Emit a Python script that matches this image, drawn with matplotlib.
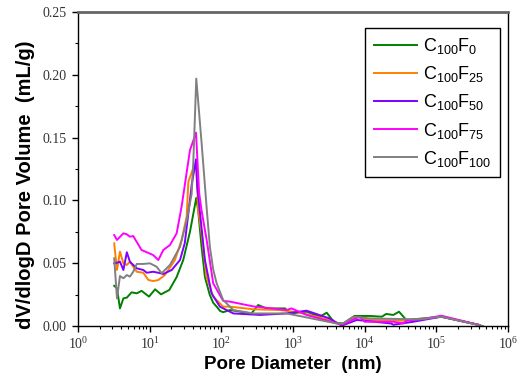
import math
import matplotlib
matplotlib.use("Agg")
import matplotlib.pyplot as plt
from matplotlib.ticker import FuncFormatter, FormatStrFormatter, FixedLocator, LogLocator, MultipleLocator

# ---------------- data ----------------
labels = [r"C$\mathregular{_{100}}$F$\mathregular{_{0}}$",
          r"C$\mathregular{_{100}}$F$\mathregular{_{25}}$",
          r"C$\mathregular{_{100}}$F$\mathregular{_{50}}$",
          r"C$\mathregular{_{100}}$F$\mathregular{_{75}}$",
          r"C$\mathregular{_{100}}$F$\mathregular{_{100}}$"]
colors = ["#008000", "#FF8000", "#8000FF", "#FF00FF", "#808080"]

x_f0 = [3.2, 3.5, 3.85, 4.3, 4.8, 5.6, 6.6, 7.7, 9.8, 11.9, 14.4, 18.8, 23.8, 29.4, 36.5, 44.7,
        47.5, 53, 59, 69, 77, 86, 96, 106, 132, 263, 327, 427, 776, 912, 1549, 2371, 2951,
        3802, 5012, 7244, 11749, 17378, 19953, 25119, 30200, 38019, 117490, 398107]
y_f0 = [0.032, 0.030, 0.014, 0.022, 0.0226, 0.0268, 0.026, 0.028, 0.0234, 0.0292, 0.0252, 0.0287,
        0.039, 0.0525, 0.075, 0.102, 0.092, 0.063, 0.039, 0.0247, 0.0185, 0.0154, 0.012, 0.011,
        0.0127, 0.010, 0.0167, 0.014, 0.014, 0.010, 0.0114, 0.0074, 0.0106, 0.0026, 0.002, 0.008,
        0.008, 0.0074, 0.0096, 0.0088, 0.0114, 0.0048, 0.0074, 0.0008]

x_f25 = [3.2, 3.5, 3.85, 4.3, 4.8, 5.3, 5.9, 6.6, 8.15, 9.6, 11.2, 13.2, 16.3, 22.5, 27.9, 32.8,
         34.7, 40.6, 44.7, 47.5, 53, 62, 77, 106, 132, 279, 660, 1259, 3236, 4786, 7762, 10715,
         38019, 117490, 398107]
y_f25 = [0.0658, 0.0446, 0.0592, 0.0499, 0.0486, 0.0512, 0.0472, 0.0432, 0.0424, 0.0366, 0.0358,
         0.0366, 0.0406, 0.0525, 0.0685, 0.087, 0.115, 0.1256, 0.127, 0.092, 0.074, 0.0393, 0.0234,
         0.0154, 0.0154, 0.0133, 0.0127, 0.0106, 0.0048, 0.001, 0.0074, 0.0048, 0.0042, 0.0074,
         0.0008]

x_f50 = [3.2, 3.5, 3.85, 4.3, 4.8, 5.3, 6.6, 8.15, 9.1, 11.2, 13.2, 15.5, 20.3, 26.5, 30.9, 34.7,
         38.5, 44.3, 46.1, 50, 59, 73, 95.5, 147, 347, 813, 1549, 3236, 4786, 7762, 23442, 25119,
         47863, 117490, 398107]
y_f50 = [0.0499, 0.0504, 0.0512, 0.0446, 0.0587, 0.0512, 0.0459, 0.0446, 0.0424, 0.0432, 0.0424,
         0.0414, 0.0446, 0.0525, 0.066, 0.09, 0.112, 0.1327, 0.111, 0.092, 0.0525, 0.026, 0.0154,
         0.010, 0.0088, 0.010, 0.0122, 0.006, 0.0003, 0.0048, 0.002, 0.001, 0.0034, 0.0074, 0.0008]

x_f75 = [3.2, 3.5, 4.3, 4.8, 5.3, 5.9, 7.7, 11.2, 13.2, 15.5, 19.2, 23.8, 27.9, 36.5, 42, 44.3,
         49, 53, 62.4, 77, 106, 132, 279, 813, 955, 1549, 4786, 8511, 10000, 25119, 34674, 38019,
         72444, 117490, 398107]
y_f75 = [0.0724, 0.0685, 0.0738, 0.073, 0.0711, 0.0716, 0.0605, 0.0565, 0.0525, 0.0605, 0.0645,
         0.0738, 0.095, 0.140, 0.150, 0.154, 0.106, 0.092, 0.0685, 0.034, 0.0200, 0.0194, 0.0156,
         0.0127, 0.014, 0.0088, 0.001, 0.0074, 0.0034, 0.0034, 0.002, 0.0042, 0.006, 0.0082, 0.0008]

x_f100 = [3.2, 3.5, 3.85, 4.3, 4.8, 5.3, 5.9, 6.6, 8.15, 10.1, 12.5, 14.7, 19.2, 26.5, 32.8, 38.5,
          40.6, 44.7, 53, 62.4, 69.2, 77, 86, 106, 147, 279, 813, 1380, 4074, 5012, 6918, 11749,
          58884, 117490, 446684]
y_f100 = [0.0539, 0.022, 0.0398, 0.038, 0.0406, 0.0393, 0.0432, 0.0494, 0.0494, 0.0499, 0.0472,
          0.042, 0.0486, 0.063, 0.084, 0.105, 0.13, 0.197, 0.146, 0.094, 0.063, 0.045, 0.034,
          0.0207, 0.0127, 0.010, 0.010, 0.0074, 0.002, 0.002, 0.0074, 0.006, 0.0053, 0.0074, 0.0]

series_x = [x_f0, x_f25, x_f50, x_f75, x_f100]
series_y = [y_f0, y_f25, y_f50, y_f75, y_f100]

x_major = [1, 10, 100, 1000, 10000, 100000, 1000000]

xlabel = "Pore Diameter  (nm)"
ylabel = "dV/dlogD Pore Volume  (mL/g)"

# ---------------- figure ----------------
fig = plt.figure(figsize=(5.32, 3.85), dpi=100)
ax = fig.add_axes([78 / 532, 59 / 385, 430 / 532, 314 / 385])

for xs, ys, c, lab in zip(series_x, series_y, colors, labels):
    ax.plot(xs, ys, color=c, lw=1.4, label=lab)

ax.set_xscale("log")
ax.set_xlim(1, 1e6)
ax.set_ylim(0, 0.25)

ax.xaxis.set_major_locator(FixedLocator(x_major))
ax.xaxis.set_minor_locator(LogLocator(base=10, subs=range(2, 10), numticks=100))
ax.xaxis.set_major_formatter(FuncFormatter(lambda v, p: r"$\mathregular{10^{%d}}$" % round(math.log10(v))))
ax.yaxis.set_major_locator(MultipleLocator(0.05))
ax.yaxis.set_minor_locator(MultipleLocator(0.025))
ax.yaxis.set_major_formatter(FormatStrFormatter("%.2f"))

ax.tick_params(which="both", direction="out", colors="black", labelcolor="#333333")
ax.tick_params(which="major", length=4, width=1, labelsize=10)
ax.tick_params(which="minor", length=2.5, width=0.8)
ax.tick_params(axis="y", which="major", pad=4)
for lab in ax.get_xticklabels() + ax.get_yticklabels():
    lab.set_fontfamily("Liberation Serif")

for s in ["left", "right", "bottom"]:
    ax.spines[s].set_color("black")
    ax.spines[s].set_linewidth(1.0)
ax.spines["top"].set_color("#666666")
ax.spines["top"].set_linewidth(2.0)

ax.set_xlabel(xlabel, fontfamily="Liberation Sans", fontweight="bold", fontsize=13.5, labelpad=3)
ax.set_ylabel(ylabel, fontfamily="Liberation Sans", fontweight="bold", fontsize=14.5)
ax.yaxis.set_label_coords(-0.1, 0.45)

leg = ax.legend(loc="upper right", bbox_to_anchor=(0.981, 0.949), borderaxespad=0,
                prop={"family": "Liberation Sans", "size": 13}, fancybox=False,
                edgecolor="black", framealpha=1, handlelength=2.4, handletextpad=0.35,
                labelspacing=0.45, borderpad=0.45)
leg.get_frame().set_linewidth(1.0)

fig.savefig("out.png", dpi=100)
